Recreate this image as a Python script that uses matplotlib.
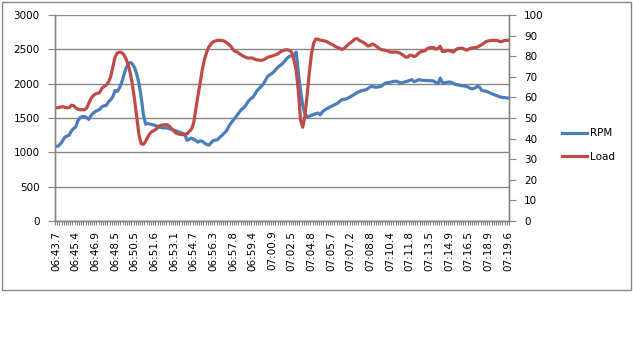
import numpy as np
import matplotlib
matplotlib.use('Agg')
import matplotlib.pyplot as plt
from matplotlib.patches import Rectangle

# tick labels (every 9th sample of the log)
time_labels = ['06:43.7', '06:45.4', '06:46.9', '06:48.5', '06:50.5', '06:51.6',
               '06:53.1', '06:54.7', '06:56.3', '06:57.8', '06:59.4', '07:00.9',
               '07:02.5', '07:04.8', '07:05.7', '07:07.2', '07:08.8', '07:10.4',
               '07:11.8', '07:13.5', '07:14.9', '07:16.5', '07:18.9', '07:19.6']
label_step = 9

rpm = [1088, 1090, 1125, 1170, 1220, 1238, 1250, 1310, 1345, 1370,
       1460, 1505, 1520, 1520, 1505, 1480, 1535, 1570, 1595, 1610,
       1625, 1665, 1678, 1685, 1735, 1765, 1810, 1900, 1888, 1935,
       2010, 2120, 2220, 2290, 2310, 2285, 2230, 2130, 2000, 1800,
       1550, 1410, 1420, 1412, 1405, 1395, 1383, 1372, 1362, 1355,
       1355, 1355, 1342, 1333, 1322, 1312, 1300, 1288, 1276, 1262,
       1175, 1190, 1208, 1190, 1172, 1148, 1168, 1160, 1135, 1115,
       1105, 1140, 1172, 1178, 1184, 1220, 1245, 1280, 1310, 1370,
       1420, 1462, 1505, 1545, 1590, 1628, 1650, 1690, 1740, 1775,
       1798, 1840, 1895, 1930, 1965, 1998, 2055, 2110, 2130, 2152,
       2180, 2220, 2250, 2272, 2300, 2340, 2375, 2400, 2407, 2400,
       2460, 2150, 1900, 1680, 1565, 1515, 1525, 1540, 1552, 1563,
       1572, 1545, 1590, 1615, 1635, 1652, 1670, 1685, 1700, 1716,
       1745, 1768, 1772, 1778, 1795, 1812, 1830, 1852, 1870, 1885,
       1898, 1905, 1912, 1932, 1955, 1958, 1950, 1948, 1955, 1962,
       1990, 2010, 2015, 2020, 2028, 2034, 2034, 2022, 2010, 2018,
       2028, 2036, 2048, 2058, 2030, 2040, 2058, 2054, 2048, 2046,
       2044, 2043, 2043, 2040, 2015, 2000, 2080, 2015, 2012, 2020,
       2024, 2020, 2005, 1990, 1982, 1975, 1970, 1965, 1961, 1945,
       1930, 1928, 1938, 1960, 1950, 1903, 1895, 1890, 1878, 1862,
       1848, 1835, 1825, 1812, 1802, 1798, 1794, 1791]

load = [55, 55, 55.3, 55.5, 55.1, 55, 55, 56.2, 56, 54.9,
        54.3, 54, 54, 54, 54.8, 57.2, 59.5, 60.8, 61.7, 62,
        62.4, 64.4, 65.3, 66, 67.4, 70, 74.8, 79.5, 81.5, 82,
        81.8, 80.8, 78.8, 76, 71.8, 66, 58.5, 50, 41.5, 37.5,
        37.2, 38.6, 40.8, 42.5, 43.5, 44, 44.8, 45.9, 46.4, 46.7,
        46.7, 46.7, 45.9, 44.7, 43.6, 42.6, 42.3, 42, 41.9, 41.9,
        42.4, 43.5, 44.5, 47.5, 54.3, 60.8, 67, 73.5, 78.5, 82,
        84.5, 86, 87, 87.4, 87.7, 87.7, 87.7, 87.3, 86.7, 85.8,
        84.9, 83.3, 82.3, 82, 81.2, 80.5, 79.9, 79.4, 79.1, 79.1,
        79.1, 78.6, 78.2, 78.1, 78, 78.2, 78.8, 79.5, 79.8, 80.1,
        80.5, 80.8, 81.5, 82.3, 82.7, 83.1, 83.1, 82.8, 81.8, 78,
        73, 63, 49, 45.5, 51, 61, 72, 81, 86.3, 88.4,
        88.2, 87.8, 87.6, 87.4, 87.1, 86.5, 85.9, 85.4, 84.7, 84.2,
        83.8, 83.3, 83.8, 84.8, 85.8, 86.6, 87.5, 88.4, 88.5, 87.6,
        87.1, 86.6, 85.7, 84.9, 85.3, 85.9, 85.4, 84.6, 83.8, 83.2,
        83, 82.8, 82.5, 82, 82, 82, 82, 81.7, 81.2, 80.5,
        79.6, 79.5, 80.5, 80.4, 79.8, 80.3, 81.4, 82.1, 82.4, 82.7,
        83.6, 84.1, 84.2, 84.2, 83.4, 83.8, 84.8, 82.3, 82.3, 82.7,
        82.8, 82.4, 82, 83, 83.7, 83.8, 83.9, 83.5, 82.9, 83.4,
        83.9, 84.1, 84.2, 84.4, 85, 85.6, 86.4, 87.1, 87.4, 87.6,
        87.7, 87.7, 87.7, 87.2, 87, 87.5, 87.7, 87.7]

blue = '#4A7EBB'
red = '#BE4B48'
grey = '#868686'
fs = 7.5

n = len(rpm)
idx = np.arange(n)

fig = plt.figure(figsize=(6.33, 3.6), dpi=100)
fig.patches.append(Rectangle((1.5 / 633, 1 - 290 / 360), 629 / 633, 288 / 360,
                             transform=fig.transFigure, fill=False,
                             edgecolor=grey, linewidth=1))

ax = fig.add_axes([55 / 633, 1 - 221 / 360, 454 / 633, 206 / 360])
ax2 = ax.twinx()

l1, = ax.plot(idx, rpm, color=blue, linewidth=2.3, solid_joinstyle='round')
l2, = ax2.plot(idx, load, color=red, linewidth=2.3, solid_joinstyle='round')

ax.set_xlim(-0.5, n - 0.5)
ax.set_ylim(0, 3000)
ax2.set_ylim(0, 100)
ax.set_yticks(np.arange(0, 3001, 500))
ax2.set_yticks(np.arange(0, 101, 10))
ax.yaxis.grid(True, color=grey, linewidth=1)
ax.set_axisbelow(True)

ax.set_xticks(idx[::label_step])
ax.set_xticklabels(time_labels, rotation=90, fontsize=fs)
ax.set_xticks(np.arange(-0.5, n, 1), minor=True)
ax.tick_params(axis='x', which='major', length=0, pad=7)
ax.tick_params(axis='x', which='minor', length=3, color=grey, width=0.8)
ax.tick_params(axis='y', length=5, color=grey, labelsize=fs, pad=6)
ax2.tick_params(axis='y', length=5, color=grey, labelsize=fs, pad=6)

for a in (ax, ax2):
    a.spines['top'].set_visible(False)
    for s in ('left', 'right', 'bottom'):
        a.spines[s].set_color(grey)
        a.spines[s].set_linewidth(1)

fig.legend([l1, l2], ['RPM', 'Load'], loc='center left',
           bbox_to_anchor=(562 / 633, 1 - 145 / 360), frameon=False,
           fontsize=fs, handlelength=2.4, handletextpad=0.3,
           labelspacing=1.3, borderpad=0, borderaxespad=0)

fig.savefig('out.png', dpi=100)
